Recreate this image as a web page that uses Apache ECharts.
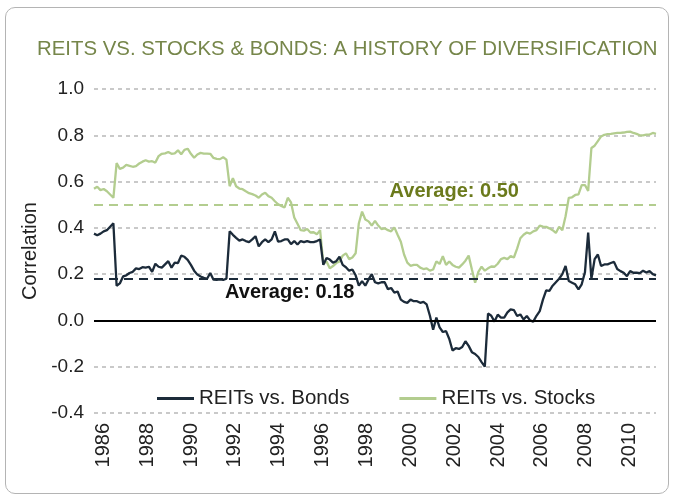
<!DOCTYPE html>
<html>
<head>
<meta charset="utf-8">
<script src="https://cdn.jsdelivr.net/npm/echarts@6/dist/echarts.min.js"></script>
<style>
  html, body { margin: 0; padding: 0; background: #fff; }
  #chart { width: 673px; height: 495px; }
  .frame {
    position: absolute; left: 5px; top: 7px; width: 662px; height: 485px;
    border: 1px solid #b4b4b4; border-radius: 10px; pointer-events: none;
  }
</style>
</head>
<body>
<div id="chart"></div>
<div class="frame"></div>
<script>
// year labels shown on the x axis
const yearTicks = [1986, 1988, 1990, 1992, 1994, 1996, 1998,
  2000, 2002, 2004, 2006, 2008, 2010];

// sampling of the series: first point and spacing, in years
const startYear = 1985.571;
const stepYears = 0.1473;

// REITs vs. Bonds correlation
const bonds = [
  0.375, 0.368, 0.375, 0.385, 0.39, 0.405, 0.42, 0.15, 0.16, 0.19,
  0.195, 0.205, 0.21, 0.225, 0.222, 0.23, 0.228, 0.232, 0.21, 0.245,
  0.232, 0.228, 0.242, 0.256, 0.228, 0.25, 0.248, 0.28, 0.275, 0.262,
  0.24, 0.215, 0.198, 0.19, 0.184, 0.18, 0.205, 0.176, 0.175, 0.177,
  0.175, 0.18, 0.385, 0.37, 0.357, 0.345, 0.35, 0.343, 0.338, 0.35,
  0.364, 0.32, 0.338, 0.35, 0.338, 0.35, 0.385, 0.34, 0.343, 0.35,
  0.35, 0.33, 0.343, 0.328, 0.343, 0.338, 0.343, 0.338, 0.338, 0.343,
  0.35, 0.24, 0.27, 0.263, 0.25, 0.256, 0.275, 0.24, 0.23, 0.215,
  0.22, 0.195, 0.15, 0.17, 0.15, 0.177, 0.2, 0.165, 0.16, 0.165,
  0.165, 0.135, 0.14, 0.12, 0.125, 0.09, 0.08, 0.076, 0.09, 0.083,
  0.083, 0.076, 0.08, 0.069, 0.02, -0.04, 0.012, -0.03, -0.05, -0.046,
  -0.08, -0.13, -0.12, -0.123, -0.115, -0.09, -0.11, -0.137, -0.145, -0.158,
  -0.18, -0.2, 0.03, 0.02, -0.005, 0.025, 0.012, 0.012, 0.035, 0.048,
  0.045, 0.019, 0.026, 0.004, 0.019, 0.0, -0.005, 0.02, 0.04, 0.09,
  0.13, 0.128, 0.15, 0.165, 0.18, 0.2, 0.235, 0.17, 0.163, 0.156,
  0.134, 0.156, 0.208, 0.38, 0.18, 0.265, 0.285, 0.235, 0.242, 0.242,
  0.248, 0.253, 0.222, 0.213, 0.206, 0.191, 0.213, 0.206, 0.206, 0.204,
  0.215, 0.207, 0.213, 0.2, 0.195
];

// REITs vs. Stocks correlation
const stocks = [
  0.569, 0.578, 0.563, 0.568, 0.558, 0.544, 0.53, 0.68, 0.655, 0.66,
  0.672, 0.668, 0.664, 0.667, 0.678, 0.686, 0.692, 0.686, 0.688, 0.682,
  0.71, 0.72, 0.722, 0.728, 0.72, 0.722, 0.735, 0.718, 0.737, 0.742,
  0.72, 0.703, 0.717, 0.724, 0.721, 0.721, 0.72, 0.702, 0.698, 0.697,
  0.705, 0.695, 0.58, 0.615, 0.58, 0.57, 0.567, 0.558, 0.55, 0.546,
  0.54, 0.53, 0.544, 0.552, 0.537, 0.53, 0.515, 0.502, 0.495, 0.488,
  0.53, 0.51, 0.445, 0.418, 0.39, 0.388, 0.395, 0.38, 0.381, 0.372,
  0.39, 0.245, 0.255, 0.225, 0.235, 0.248, 0.255, 0.28, 0.29, 0.265,
  0.272, 0.29, 0.42, 0.47, 0.436, 0.428, 0.41, 0.43, 0.41, 0.395,
  0.398, 0.39, 0.385, 0.402, 0.37, 0.34, 0.285, 0.25, 0.236, 0.24,
  0.24, 0.228, 0.222, 0.225, 0.215, 0.22, 0.255, 0.244, 0.278, 0.24,
  0.255, 0.24, 0.232, 0.228, 0.242, 0.258, 0.28, 0.22, 0.163, 0.21,
  0.232, 0.215, 0.225, 0.233, 0.232, 0.245, 0.265, 0.27, 0.265, 0.278,
  0.272, 0.31, 0.355, 0.37, 0.38, 0.375, 0.385, 0.39, 0.41, 0.405,
  0.404, 0.398, 0.39, 0.378, 0.405, 0.39, 0.45, 0.53, 0.532, 0.542,
  0.545, 0.585, 0.585, 0.56, 0.745, 0.755, 0.775, 0.795, 0.802, 0.805,
  0.806, 0.808, 0.81, 0.81, 0.812, 0.815, 0.816, 0.81, 0.806, 0.8,
  0.8, 0.803, 0.803, 0.81, 0.806
];

const avgStocks = 0.50;
const avgBonds = 0.18;

// time of each sample
const times = bonds.map(function (v, i) { return +(startYear + i * stepYears).toFixed(4); });
const endYear = times[times.length - 1];

function pairs (vals) {
  return vals.map(function (v, i) { return [times[i], v]; });
}

const FONT = "'Liberation Sans', Arial, sans-serif";
const NAVY = '#1c2b3a';
const GREEN = '#b3cd8f';

const chart = echarts.init(document.getElementById('chart'));

const option = {
  animation: false,
  title: {
    text: 'REITS VS. STOCKS & BONDS: A HISTORY OF DIVERSIFICATION',
    left: 32,
    top: 34,
    textStyle: { color: '#76864a', fontSize: 20.4, fontWeight: 'normal', fontFamily: FONT }
  },
  legend: {
    left: 152,
    top: 383,
    itemGap: 50,
    itemWidth: 37,
    itemHeight: 3,
    icon: 'rect',
    data: ['REITs vs. Bonds', 'REITs vs. Stocks'],
    textStyle: { color: '#222', fontSize: 20.5, fontFamily: FONT }
  },
  grid: { left: 94, right: 17, top: 89, bottom: 82 },
  xAxis: {
    type: 'value',
    min: startYear,
    max: endYear,
    axisLine: { show: false },
    axisTick: { show: false },
    splitLine: { show: false },
    axisLabel: {
      customValues: yearTicks,
      rotate: 90,
      margin: 10,
      color: '#222',
      fontSize: 20,
      fontFamily: FONT,
      padding: [6, 0, 0, 0],
      formatter: function (v) { return String(v); }
    }
  },
  yAxis: {
    type: 'value',
    min: -0.4,
    max: 1.0,
    interval: 0.2,
    name: 'Correlation',
    nameLocation: 'middle',
    nameGap: 43,
    nameRotate: 90,
    nameTextStyle: { color: '#222', fontSize: 20, fontFamily: FONT },
    axisLine: { show: false },
    axisTick: { show: false },
    axisLabel: {
      color: '#222',
      fontSize: 19,
      fontFamily: FONT,
      margin: 10,
      formatter: function (v) { return v.toFixed(1); }
    },
    splitLine: { lineStyle: { color: '#b8b8b8', type: [4, 4], width: 1.5 } }
  },
  series: [
    {
      name: 'REITs vs. Stocks',
      type: 'line',
      data: pairs(stocks),
      symbol: 'none',
      z: 3,
      color: GREEN,
      lineStyle: { color: GREEN, width: 2.3 },
      markLine: {
        silent: true,
        symbol: 'none',
        label: { show: false },
        data: [
          { yAxis: avgStocks, lineStyle: { color: GREEN, type: [9, 6], width: 2 } },
          { yAxis: 0, lineStyle: { color: '#000', type: 'solid', width: 2 } }
        ]
      },
      markPoint: {
        silent: true,
        symbol: 'circle',
        symbolSize: 0,
        data: [{
          coord: [2002.0, avgStocks],
          label: {
            show: true,
            position: 'inside',
            formatter: 'Average: ' + avgStocks.toFixed(2),
            offset: [0, -13],
            color: '#6b7a1c',
            fontSize: 20,
            fontWeight: 'bold',
            fontFamily: FONT
          }
        }]
      }
    },
    {
      name: 'REITs vs. Bonds',
      type: 'line',
      data: pairs(bonds),
      symbol: 'none',
      z: 4,
      color: NAVY,
      lineStyle: { color: NAVY, width: 2.3 },
      markLine: {
        silent: true,
        symbol: 'none',
        label: { show: false },
        data: [
          { yAxis: avgBonds, lineStyle: { color: NAVY, type: [9, 6], width: 2 } }
        ]
      },
      markPoint: {
        silent: true,
        symbol: 'circle',
        symbolSize: 0,
        data: [{
          coord: [1994.5, avgBonds],
          label: {
            show: true,
            position: 'inside',
            formatter: 'Average: ' + avgBonds.toFixed(2),
            offset: [0, 14],
            color: '#111',
            fontSize: 20,
            fontWeight: 'bold',
            fontFamily: FONT
          }
        }]
      }
    }
  ]
};

option && chart.setOption(option);
</script>
</body>
</html>
